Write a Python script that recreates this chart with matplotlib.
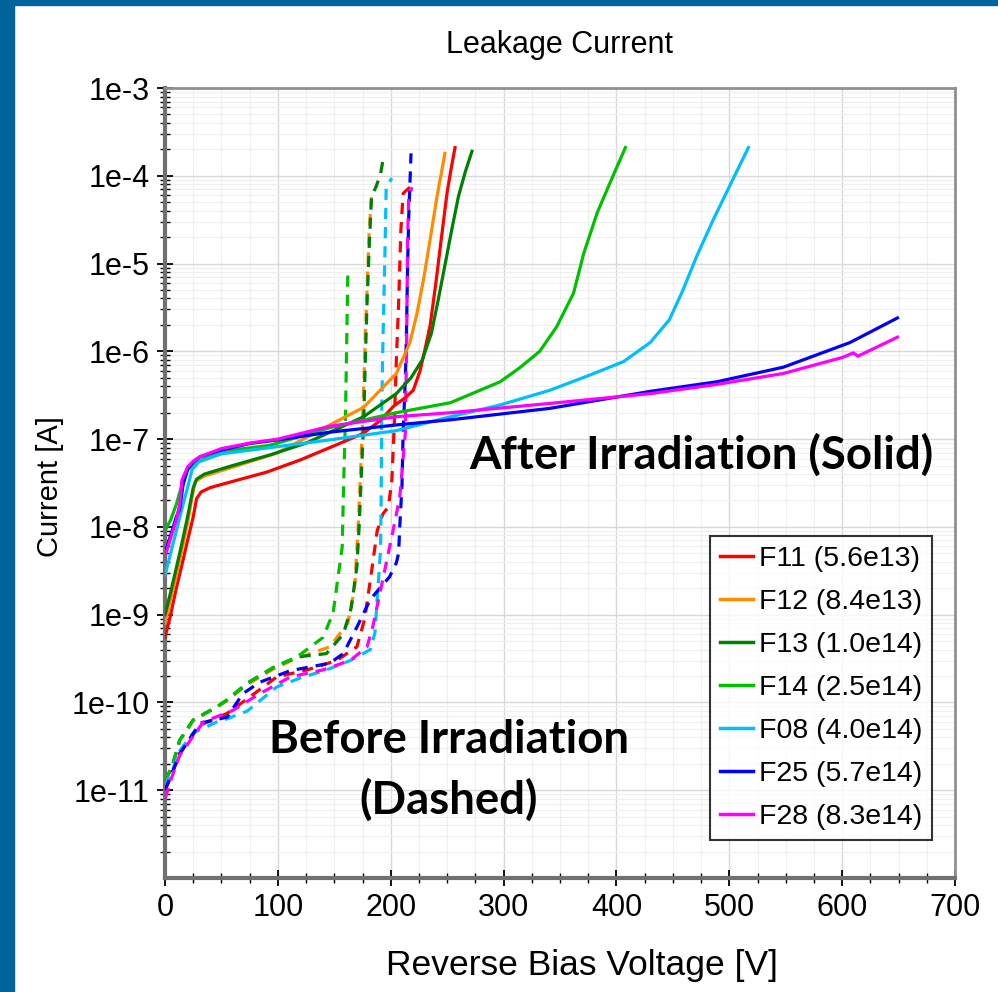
import numpy as np
import matplotlib
matplotlib.use("Agg")
import matplotlib.pyplot as plt
from matplotlib.patches import Rectangle
from matplotlib.ticker import FixedLocator, FuncFormatter, MultipleLocator

plt.rcParams['font.family'] = ['Liberation Sans', 'DejaVu Sans']

# ---- data (V in volts, I in amps) ----
labels = ["F11 (5.6e13)", "F12 (8.4e13)", "F13 (1.0e14)", "F14 (2.5e14)",
          "F08 (4.0e14)", "F25 (5.7e14)", "F28 (8.3e14)"]
colors = ["#ff0000", "#ff8c00", "#008000", "#00c000", "#00bfff", "#0000ff", "#ff00ff"]

# after irradiation (solid)
f11_after_v = [0, 5, 10, 15, 20, 25, 28, 32, 40, 60, 90, 120, 146, 175, 190, 203, 212, 220, 226, 230, 235, 240, 245, 250, 254, 257]
f11_after_i = [5.5e-10, 1.0e-9, 2.0e-9, 3.7e-9, 7.0e-9, 1.3e-8, 2.1e-8, 2.5e-8, 2.8e-8, 3.3e-8, 4.2e-8, 5.8e-8, 8.0e-8,
               1.15e-7, 1.6e-7, 2.4e-7, 2.9e-7, 3.6e-7, 6.0e-7, 1.0e-6, 2.0e-6, 6.0e-6, 2.0e-5, 6.5e-5, 1.3e-4, 2.1e-4]
f12_after_v = [0, 5, 10, 15, 20, 24, 27, 35, 60, 100, 146, 176, 205, 217, 223, 229, 235, 241, 245, 248]
f12_after_i = [8.0e-10, 1.5e-9, 2.8e-9, 5.5e-9, 1.1e-8, 2.2e-8, 3.3e-8, 3.8e-8, 4.8e-8, 7.0e-8, 1.45e-7, 2.3e-7, 5.6e-7,
               1.26e-6, 2.6e-6, 6.5e-6, 1.9e-5, 5.8e-5, 1.1e-4, 1.8e-4]
f13_after_v = [0, 5, 10, 15, 20, 25, 28, 35, 60, 93, 125, 155, 176, 205, 218, 228, 236, 242, 248, 254, 260, 266, 272]
f13_after_i = [1.0e-9, 1.8e-9, 3.4e-9, 6.5e-9, 1.3e-8, 2.8e-8, 3.5e-8, 4.0e-8, 5.0e-8, 6.6e-8, 9.0e-8, 1.35e-7, 1.8e-7,
               3.3e-7, 5.0e-7, 8.0e-7, 1.6e-6, 3.8e-6, 9.5e-6, 2.4e-5, 5.8e-5, 1.1e-4, 1.9e-4]
f14_after_v = [0, 5, 10, 15, 20, 25, 35, 60, 93, 146, 205, 253, 297, 315, 332, 347, 362, 371, 383, 397, 408]
f14_after_i = [9.0e-9, 1.2e-8, 1.8e-8, 3.0e-8, 4.5e-8, 5.2e-8, 6.0e-8, 7.5e-8, 8.5e-8, 1.35e-7, 2.0e-7, 2.6e-7, 4.5e-7,
               6.6e-7, 1.0e-6, 1.9e-6, 4.6e-6, 1.3e-5, 3.8e-5, 1.0e-4, 2.1e-4]
f08_after_v = [0, 5, 10, 15, 20, 24, 30, 50, 93, 146, 205, 253, 297, 341, 377, 406, 430, 447, 459, 471, 486, 503, 517]
f08_after_i = [2.8e-9, 5.0e-9, 9.0e-9, 1.6e-8, 2.8e-8, 4.5e-8, 5.5e-8, 6.8e-8, 8.0e-8, 9.8e-8, 1.25e-7, 1.8e-7, 2.45e-7,
               3.6e-7, 5.4e-7, 7.6e-7, 1.26e-6, 2.3e-6, 5.0e-6, 1.2e-5, 3.2e-5, 9.0e-5, 2.1e-4]
f25_after_v = [0, 5, 10, 13, 16, 20, 25, 31, 50, 75, 100, 146, 205, 253, 341, 430, 489, 548, 607, 649]
f25_after_i = [5.0e-9, 8.0e-9, 1.3e-8, 1.6e-8, 3.0e-8, 4.5e-8, 5.5e-8, 6.3e-8, 7.5e-8, 8.9e-8, 9.8e-8, 1.2e-7, 1.45e-7,
               1.66e-7, 2.24e-7, 3.5e-7, 4.5e-7, 6.6e-7, 1.26e-6, 2.4e-6]
f28_after_v = [0, 5, 10, 13, 15, 20, 25, 31, 50, 75, 100, 146, 205, 253, 341, 430, 489, 548, 600, 610, 614, 649]
f28_after_i = [4.6e-9, 7.5e-9, 1.2e-8, 1.8e-8, 3.4e-8, 4.8e-8, 5.6e-8, 6.3e-8, 7.8e-8, 9.0e-8, 1.0e-7, 1.4e-7, 1.8e-7,
               2.0e-7, 2.55e-7, 3.3e-7, 4.2e-7, 5.6e-7, 8.5e-7, 9.6e-7, 8.8e-7, 1.45e-6]

# before irradiation (dashed)
f11_before_v = [0, 6, 13, 31, 55, 75, 99, 126, 152, 170, 177, 182, 188, 193, 198, 201, 203, 205, 207, 209, 211, 217]
f11_before_i = [1.0e-11, 1.5e-11, 2.6e-11, 5.5e-11, 7.5e-11, 1.15e-10, 1.95e-10, 2.35e-10, 3.0e-10, 4.3e-10, 9.0e-10,
                2.5e-9, 9.0e-9, 1.4e-8, 1.7e-8, 3.4e-8, 1.3e-7, 8.0e-7, 3.5e-6, 2.4e-5, 6.3e-5, 7.4e-5]
f12_before_v = [0, 6, 13, 25, 46, 55, 73, 96, 117, 146, 162, 168, 171, 173, 175, 177, 179, 181, 183]
f12_before_i = [1.3e-11, 1.8e-11, 3.7e-11, 6.3e-11, 8.9e-11, 1.05e-10, 1.6e-10, 2.4e-10, 3.2e-10, 4.3e-10, 8.0e-10,
                2.0e-9, 9.0e-9, 3.5e-8, 1.5e-7, 9.0e-7, 5.0e-6, 2.5e-5, 5.7e-5]
f13_before_v = [0, 6, 13, 25, 46, 55, 73, 96, 117, 143, 158, 165, 170, 172, 174, 176, 177.5, 179, 181, 183, 187, 191, 194]
f13_before_i = [1.3e-11, 1.8e-11, 3.7e-11, 6.3e-11, 8.9e-11, 1.07e-10, 1.66e-10, 2.5e-10, 3.3e-10, 3.6e-10, 6.0e-10,
                1.2e-9, 3.5e-9, 1.0e-8, 4.0e-8, 1.5e-7, 8.0e-7, 3.5e-6, 1.6e-5, 5.8e-5, 7.5e-5, 1.05e-4, 1.75e-4]
f14_before_v = [0, 6, 13, 25, 46, 55, 73, 96, 117, 140, 149, 153, 157, 158, 160, 162]
f14_before_i = [1.3e-11, 1.8e-11, 3.7e-11, 6.3e-11, 8.9e-11, 1.07e-10, 1.66e-10, 2.5e-10, 3.3e-10, 5.5e-10, 1.05e-9,
                2.5e-9, 5.9e-9, 2.2e-8, 2.0e-7, 8.0e-6]
f08_before_v = [0, 6, 13, 25, 46, 55, 73, 99, 120, 143, 164, 182, 186, 188, 191, 191.5, 192, 193, 195, 196, 201]
f08_before_i = [1.1e-11, 1.6e-11, 2.8e-11, 4.5e-11, 6.0e-11, 6.5e-11, 8.0e-11, 1.5e-10, 1.9e-10, 2.35e-10, 3.0e-10,
                4.0e-10, 6.2e-10, 1.5e-9, 5.5e-9, 1.9e-8, 2.0e-7, 1.1e-6, 1.55e-5, 7.4e-5, 9.4e-5]
f25_before_v = [0, 13, 31, 55, 69, 84, 111, 146, 158, 170, 182, 199, 205, 207, 208, 210, 211, 213, 214, 215, 216, 218]
f25_before_i = [1.0e-11, 2.6e-11, 5.8e-11, 6.8e-11, 1.26e-10, 1.7e-10, 2.3e-10, 2.8e-10, 3.6e-10, 7.2e-10, 1.5e-9,
                2.7e-9, 3.9e-9, 5.0e-9, 1.0e-8, 3.0e-8, 1.2e-7, 5.0e-7, 1.7e-6, 1.0e-5, 3.5e-5, 1.8e-4]
f28_before_v = [0, 6, 13, 34, 60, 84, 111, 140, 164, 179, 184, 191, 199, 204, 208, 211, 213, 214, 215, 216, 219]
f28_before_i = [8.0e-12, 1.4e-11, 2.5e-11, 6.0e-11, 8.1e-11, 1.26e-10, 1.95e-10, 2.35e-10, 3.0e-10, 4.3e-10, 7.2e-10,
                1.9e-9, 5.9e-9, 1.2e-8, 2.2e-8, 6.0e-8, 1.2e-7, 1.0e-6, 2.0e-5, 6.0e-5, 7.4e-5]

after_curves = [(f11_after_v, f11_after_i), (f12_after_v, f12_after_i), (f13_after_v, f13_after_i),
                (f14_after_v, f14_after_i), (f08_after_v, f08_after_i), (f25_after_v, f25_after_i),
                (f28_after_v, f28_after_i)]
before_curves = [(f11_before_v, f11_before_i), (f12_before_v, f12_before_i), (f13_before_v, f13_before_i),
                 (f14_before_v, f14_before_i), (f08_before_v, f08_before_i), (f25_before_v, f25_before_i),
                 (f28_before_v, f28_before_i)]

fig = plt.figure(figsize=(9.98, 9.92), dpi=100)
ax = fig.add_axes([165 / 998, 1 - 878 / 992, 790 / 998, 790 / 992])

# blue slide frame on the left and top
frame_col = "#00639c"
fig.patches.append(Rectangle((0, 0), 14 / 998, 1, transform=fig.transFigure, color=frame_col, zorder=0))
fig.patches.append(Rectangle((0, 1 - 5 / 992), 1, 5 / 992, transform=fig.transFigure, color=frame_col, zorder=0))

for (v, i), c in zip(before_curves, colors):
    ax.plot(v, i, color=c, lw=2.3, ls=(0, (3.5, 2.5)), zorder=3)
for (v, i), c, lab in zip(after_curves, colors, labels):
    ax.plot(v, i, color=c, lw=2.3, label=lab, zorder=4)

ax.set_yscale('log')
ax.set_xlim(0, 700)
ax.set_ylim(1e-12, 1e-3)

ax.xaxis.set_major_locator(MultipleLocator(100))
ax.xaxis.set_minor_locator(MultipleLocator(25))
ax.yaxis.set_major_locator(FixedLocator([10.0 ** k for k in range(-11, -2)]))
ax.yaxis.set_major_formatter(FuncFormatter(lambda y, p: "1e%d" % round(np.log10(y))))
minors = [m * 10.0 ** k for k in range(-12, -3) for m in range(2, 10)]
ax.yaxis.set_minor_locator(FixedLocator(minors))

ax.grid(which='major', color='#d8d8d8', lw=1.0)
ax.grid(which='minor', color='#efefef', lw=0.8)
ax.set_axisbelow(True)

ax.tick_params(which='major', direction='inout', length=12, width=1.3, color='black', labelsize=22, pad=5)
ax.tick_params(which='minor', direction='inout', length=7, width=1.0, color='black')
for side in ['left', 'bottom']:
    ax.spines[side].set_linewidth(3)
    ax.spines[side].set_color('#707070')
for side in ['top', 'right']:
    ax.spines[side].set_linewidth(2)
    ax.spines[side].set_color('#909090')

fig.text(560 / 998, 1 - 45 / 992, "Leakage Current", ha='center', va='center', fontsize=22)
fig.text(582 / 998, 1 - 965 / 992, "Reverse Bias Voltage [V]", ha='center', va='center', fontsize=25.5)
fig.text(50 / 998, 1 - 487 / 992, "Current [A]", ha='center', va='center', rotation=90, fontsize=21)

ann = dict(fontsize=32.8, fontweight='bold', family=['Lato', 'DejaVu Sans'], ha='center', va='center')
fig.text(701 / 998, 1 - 455 / 992, "After Irradiation (Solid)", **ann)
fig.text(449 / 998, 1 - 740 / 992, "Before Irradiation", **ann)
fig.text(449 / 998, 1 - 800 / 992, "(Dashed)", **ann)

leg = ax.legend(loc='lower right', bbox_to_anchor=(0.971, 0.048), borderaxespad=0, fontsize=20.5,
                frameon=True, fancybox=False, edgecolor='black', handlelength=1.15, handletextpad=0.2,
                labelspacing=0.6, borderpad=0.35)
leg.get_frame().set_linewidth(1.5)
for line in leg.get_lines():
    line.set_linewidth(2.5)

fig.savefig("out.png", dpi=100)
